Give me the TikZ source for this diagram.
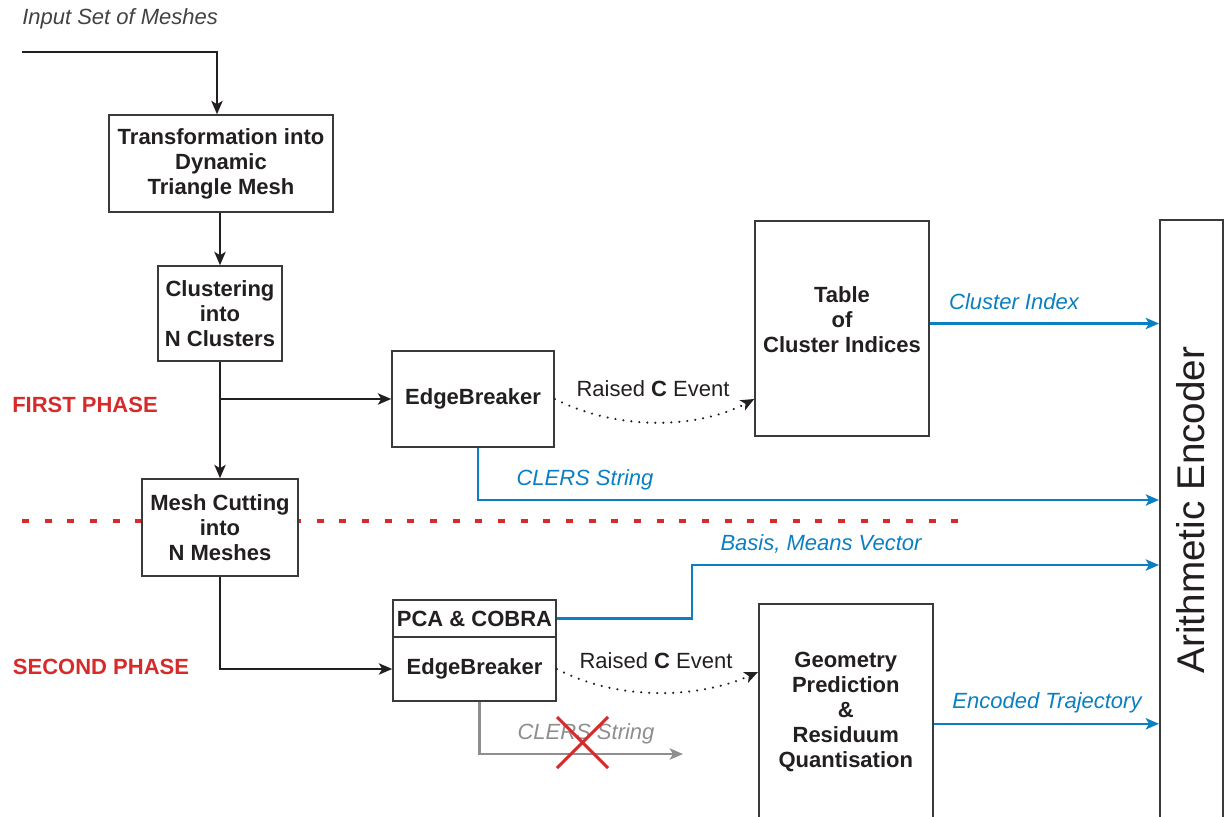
\documentclass[tikz,border=0pt]{standalone}
\usepackage{fontspec}
\setmainfont{Liberation Sans}
\usetikzlibrary{arrows.meta,calc}
\definecolor{ink}{HTML}{231F20}
\definecolor{boxline}{HTML}{3A3A3A}
\definecolor{flowblue}{HTML}{0A7FC1}
\definecolor{phasered}{HTML}{D62B2B}
\definecolor{muted}{HTML}{8C8E90}
\begin{document}
\begin{tikzpicture}[x=0.75pt,y=-0.75pt,
  every node/.style={text=ink, inner sep=0pt},
  blk/.style={draw=boxline, line width=1.2pt, fill=white, align=center,
    font=\fontsize{16.5}{18.75}\selectfont\bfseries},
  txt/.style={align=center, font=\fontsize{16.5}{18.75}\selectfont\bfseries},
  lab/.style={font=\fontsize{16.5}{18.75}\selectfont},
  bluelab/.style={font=\fontsize{16.5}{18.75}\selectfont\itshape, text=flowblue},
  greylab/.style={font=\fontsize{16.5}{18.75}\selectfont\itshape, text=muted},
  phase/.style={font=\fontsize{16.5}{18.75}\selectfont\bfseries, text=phasered},
  tip/.style={-{Stealth[length=10pt,width=8.5pt,inset=2.5pt]}},
  conn/.style={draw=ink, line width=1.6pt, tip},
  bconn/.style={draw=flowblue, line width=1.6pt, tip},
  gconn/.style={draw=muted, line width=1.6pt, tip},
  dotconn/.style={draw=ink, line width=1.8pt, dash pattern=on 0.01pt off 6pt, line cap=round,
    -{Stealth[length=10pt,width=8.5pt,inset=2.5pt]}},
]
\useasboundingbox (0,0) rectangle (1229,817);
\clip (0,0) rectangle (1229,817);

% phase separator
\draw[phasered, line width=3pt, dash pattern=on 5.25pt off 11.75pt] (22,521) -- (965,521);

% boxes
\node[blk, minimum width=168pt, minimum height=72.75pt] (tr) at (221,163.5)
  {Transformation into\\Dynamic\\Triangle Mesh};
\node[blk, minimum width=93pt, minimum height=71.25pt] (cl) at (220,313.5)
  {Clustering\\into\\N Clusters};
\node[blk, minimum width=121.5pt, minimum height=72pt] (eb1) at (473,399) {EdgeBreaker};
\node[blk, minimum width=130.5pt, minimum height=161.25pt] (tbl) at (842,328.5) {};
\node[txt] at (842,320) {Table\\of\\Cluster Indices};
\node[draw=boxline, line width=1.2pt, fill=white, minimum width=47.25pt, minimum height=465pt,
  anchor=north west] (ae) at (1159,219) {};
\node[rotate=90, font=\fontsize{29}{32}\selectfont] at (1190.5,510) {Arithmetic Encoder};
\node[blk, minimum width=117pt, minimum height=72.75pt] (mc) at (220,527.5)
  {Mesh Cutting\\into\\N Meshes};
\node[blk, minimum width=122.25pt, minimum height=27.75pt] (pca) at (474.5,618.5) {PCA \& COBRA};
\node[blk, minimum width=122.25pt, minimum height=48pt] (eb2) at (474.5,669) {EdgeBreaker};
\node[blk, minimum width=130.5pt, minimum height=162pt, anchor=north west] (geo) at (758,603)
  {Geometry\\Prediction\\\&\\Residuum\\Quantisation};

% phase labels
\node[phase] at (85,405) {FIRST PHASE};
\node[phase] at (101,667) {SECOND PHASE};
\node[font=\fontsize{16.5}{18.75}\selectfont\itshape, text=ink!85, anchor=west] at (22,19)
  {Input Set of Meshes};

% connectors
\coordinate (in) at (22,52);
\draw[conn] (in) -| ([xshift=-3pt]tr.north);
\draw[conn] (tr.south -| cl.north) -- (cl.north);
\draw[conn] (cl) -- (mc);
\draw[conn] (cl.south |- eb1.west) -- (eb1.west);
\draw[dotconn] (eb1.east) .. controls (620,432) and (700,428) .. (tbl.west |- eb1.east);
\node[lab] at (653,389) {Raised \textbf{C} Event};

\coordinate (ci) at ([yshift=3.75pt]tbl.east);
\draw[bconn] (ci) -- (ci -| ae.west);
\node[bluelab] at (1014,302) {Cluster Index};

\coordinate (y500) at (0,500);
\draw[bconn] ([xshift=3.75pt]eb1.south) |- (ae.west |- y500);
\node[bluelab] at (585,480) {CLERS String};

\draw[conn] (mc.south) |- (eb2.west);

\coordinate (bend) at (692,565);
\draw[bconn] (pca.east) -| (bend) -- (bend -| ae.west);
\node[bluelab] at (821,544) {Basis, Means Vector};

\coordinate (y672) at (0,672);
\draw[dotconn] (eb2.east) .. controls (620,702) and (700,698) .. (geo.west |- y672);
\node[lab] at (656,661) {Raised \textbf{C} Event};

\coordinate (et) at ([yshift=-9pt]geo.east);
\draw[bconn] (et) -- (et -| ae.west);
\node[bluelab] at (1047,703) {Encoded Trajectory};

\coordinate (gend) at (683,754);
\draw[gconn] ([xshift=3.75pt]eb2.south) |- (gend);
\node[greylab] at (586,734) {CLERS String};

% cross-out
\draw[phasered, line width=2.2pt] (557,717) -- (608,768);
\draw[phasered, line width=2.2pt] (557,768) -- (608,717);
\end{tikzpicture}
\end{document}
